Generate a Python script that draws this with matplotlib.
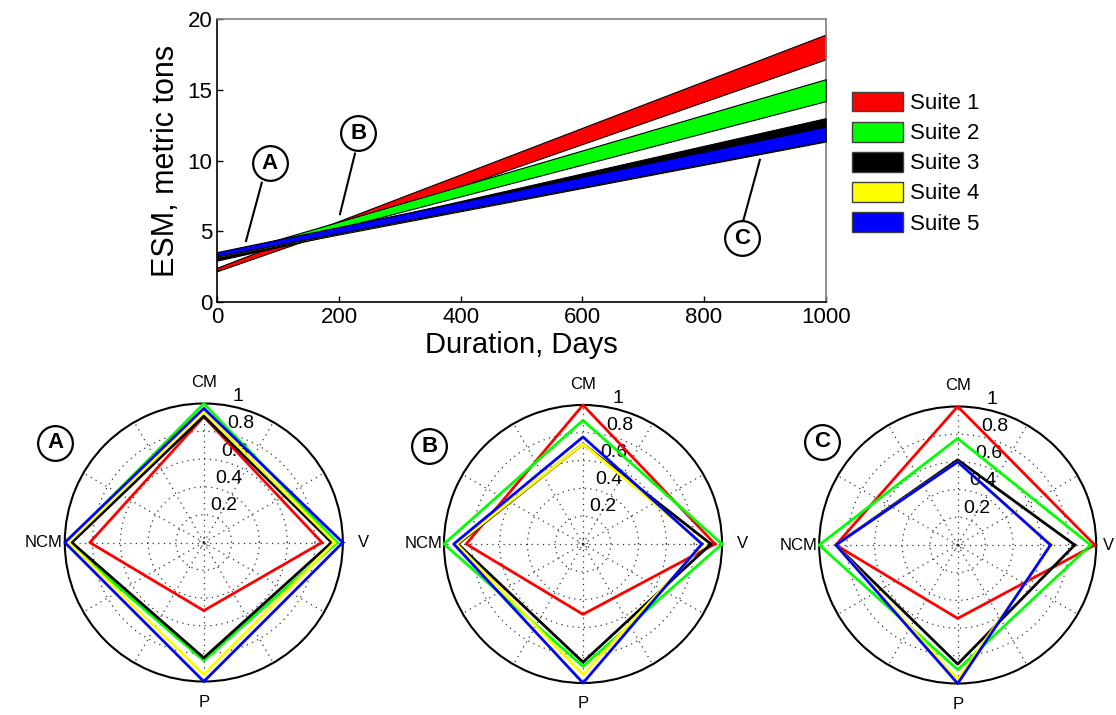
import numpy as np
import matplotlib
matplotlib.use("Agg")
import matplotlib.pyplot as plt
from matplotlib.patches import Patch

plt.rcParams['font.family'] = ['Liberation Sans', 'DejaVu Sans']

# ---------------- data ----------------
suites = ['Suite 1', 'Suite 2', 'Suite 3', 'Suite 4', 'Suite 5']
colors = ['#ff0000', '#00ff00', '#000000', '#ffff00', '#0000ff']
days = [0, 1000]
# lower / upper ESM bound at day 0 and day 1000 (metric tons)
esm_low = [[2.2, 17.15], [3.0, 14.2], [2.95, 12.4], [3.15, 11.35], [3.25, 11.4]]
esm_high = [[2.45, 18.9], [3.18, 15.75], [3.25, 13.0], [3.25, 11.45], [3.55, 12.4]]
xticks = [0, 200, 400, 600, 800, 1000]
yticks = [0, 5, 10, 15, 20]

# annotation markers on the ESM chart: (label, circle x, circle y, line start, line end)
ann_labels = ['A', 'B', 'C']
ann_circle = [(86.6, 9.81), (231.8, 11.95), (862.9, 4.52)]
ann_line_from = [(73.1, 8.44), (226.3, 10.50), (864.5, 5.76)]
ann_line_to = [(47.2, 4.33), (201.6, 6.22), (891.9, 10.06)]

# radar values, axes order: V (0 deg), CM (90), NCM (180), P (270)
radar_axes = ['V', 'CM', 'NCM', 'P']
radar_A = [[0.85, 0.905, 0.82, 0.49],
           [0.96, 1.00, 0.985, 0.85],
           [0.92, 0.91, 0.95, 0.83],
           [0.94, 0.94, 0.975, 0.95],
           [1.00, 0.965, 1.00, 1.00]]
radar_B = [[0.95, 1.00, 0.84, 0.506],
           [1.00, 0.89, 1.00, 0.88],
           [0.92, 0.72, 0.90, 0.85],
           [0.865, 0.72, 0.91, 0.94],
           [0.855, 0.77, 0.93, 1.00]]
radar_C = [[0.99, 1.00, 0.88, 0.53],
           [0.96, 0.77, 1.00, 0.90],
           [0.845, 0.615, 0.88, 0.86],
           [0.68, 0.60, 0.88, 0.97],
           [0.67, 0.60, 0.88, 1.00]]
rticks = [0.2, 0.4, 0.6, 0.8, 1]

W, H = 1116, 715
fig = plt.figure(figsize=(W / 100, H / 100), dpi=100)

# ---------------- top chart ----------------
L, R, T, B = 217.3, 825.7, 19.0, 302.3
ax = fig.add_axes([L / W, 1 - B / H, (R - L) / W, (B - T) / H])
for i in range(len(suites)):
    ax.fill_between(days, esm_low[i], esm_high[i], facecolor=colors[i],
                    edgecolor='black', linewidth=0.8, zorder=2 + i)
ax.set_xlim(0, 1000)
ax.set_ylim(0, 20)
ax.set_xticks(xticks)
ax.set_yticks(yticks)
ax.tick_params(direction='in', length=4, labelsize=16, width=1)
ax.set_xlabel('Duration, Days', fontsize=21, labelpad=2)
ax.set_ylabel('ESM, metric tons', fontsize=22, labelpad=5)
for s in ['left', 'bottom']:
    ax.spines[s].set_linewidth(1.2)
for s in ['top', 'right']:
    ax.spines[s].set_color('0.5')
    ax.spines[s].set_linewidth(1.2)

for lab, c, p0, p1 in zip(ann_labels, ann_circle, ann_line_from, ann_line_to):
    ax.plot([p0[0], p1[0]], [p0[1], p1[1]], color='black', lw=1.5, zorder=10)
    ax.plot([c[0]], [c[1]], marker='o', markersize=25, markerfacecolor='white',
            markeredgecolor='black', markeredgewidth=1.6, zorder=11, clip_on=False)
    ax.text(c[0], c[1], lab, ha='center', va='center', fontsize=16,
            fontweight='bold', zorder=12)

handles = [Patch(facecolor=colors[i], edgecolor='0.25', linewidth=1) for i in range(len(suites))]
fig.legend(handles, suites, loc='upper left',
           bbox_to_anchor=(852.3 / W, 1 - 91.5 / H), bbox_transform=fig.transFigure,
           frameon=False, fontsize=16, handlelength=2.27, handleheight=1.0,
           handletextpad=0.33, labelspacing=0.34, borderpad=0, borderaxespad=0)

# ---------------- radar charts ----------------
centers = [(203.8, 542.5, 139.0), (583.0, 544.0, 139.0), (957.7, 545.0, 138.5)]
radars = [radar_A, radar_B, radar_C]
letters = ['A', 'B', 'C']
letter_pos = [(55.0, 442.7), (429.3, 446.0), (821.7, 441.7)]
v_label_r = [1.15, 1.15, 1.09]

angles = np.deg2rad(np.arange(len(radar_axes)) * 90.0)
label_angle = {'V': 0.0, 'CM': 90.0, 'NCM': 180.0, 'P': 270.0}

for k, ((cx, cy, r), data) in enumerate(zip(centers, radars)):
    pax = fig.add_axes([(cx - r) / W, 1 - (cy + r) / H, 2 * r / W, 2 * r / H], projection='polar')
    pax.set_ylim(0, 1)
    pax.grid(False)
    pax.set_xticks([])
    pax.set_yticks([])
    pax.spines['polar'].set_linewidth(1.5)
    th = np.linspace(0, 2 * np.pi, 361)
    for rr in [0.03] + rticks[:-1]:
        pax.plot(th, np.full_like(th, rr), color='0.2', lw=0.9,
                 linestyle=(0, (1, 3.5)), zorder=1)
    for a in np.deg2rad(np.arange(0, 360, 30)):
        pax.plot([a, a], [0, 1], color='0.2', lw=0.9, linestyle=(0, (1, 3.5)), zorder=1)
    for rt in rticks:
        pax.text(np.deg2rad(78), rt + 0.01, f'{rt:g}', ha='left', va='bottom',
                 fontsize=14, zorder=3)
    for name in radar_axes:
        rr = v_label_r[k] if name == 'V' else 1.15
        pax.text(np.deg2rad(label_angle[name]), rr, name, ha='center', va='center',
                 fontsize=12, clip_on=False)
    for i in range(len(suites)):
        vals = list(data[i]) + [data[i][0]]
        angs = list(angles) + [angles[0]]
        pax.plot(angs, vals, color=colors[i], lw=2, clip_on=False, zorder=5 + i)

ov = fig.add_axes([0, 0, 1, 1], facecolor='none')
ov.set_xlim(0, W)
ov.set_ylim(H, 0)
ov.axis('off')
for lab, (x, y) in zip(letters, letter_pos):
    ov.plot([x], [y], marker='o', markersize=25, markerfacecolor='white',
            markeredgecolor='black', markeredgewidth=1.6)
    ov.text(x, y, lab, ha='center', va='center', fontsize=16, fontweight='bold')

fig.savefig('out.png', dpi=100)
